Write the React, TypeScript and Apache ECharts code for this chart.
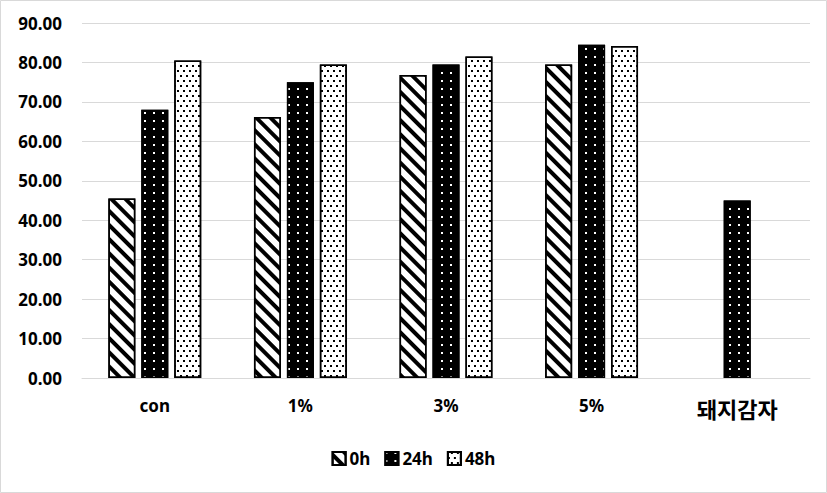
import React, { useEffect, useRef } from "react";
import * as echarts from "echarts";

const categories = ["con", "1%", "3%", "5%", "돼지감자"];
const seriesNames = ["0h", "24h", "48h"];
const values0h: (number | null)[] = [45.5, 66.2, 76.8, 79.5, null];
const values24h: (number | null)[] = [68.0, 75.0, 79.5, 84.5, 45.0];
const values48h: (number | null)[] = [80.5, 79.5, 81.5, 84.2, null];
const yTicks = { min: 0, max: 90, interval: 10 };

const FONT = "'Noto Sans', 'Noto Sans CJK KR', sans-serif";

export default function App() {
  const ref = useRef<HTMLDivElement>(null);
  useEffect(() => {
    if (!ref.current) return;
    const chart = echarts.init(ref.current, null, { renderer: "svg" });
    const border = { borderColor: "#000", borderWidth: 1.5 };
    chart.setOption({
      animation: false,
      backgroundColor: "#fff",
      textStyle: { fontFamily: FONT },
      graphic: [
        {
          type: "rect",
          shape: { x: 0.5, y: 0.5, width: 826, height: 492 },
          style: { fill: "none", stroke: "#d9d9d9", lineWidth: 1 },
          silent: true,
        },
      ],
      grid: { left: 82, right: 17, top: 23, bottom: 115 },
      legend: {
        bottom: 21,
        left: "center",
        itemWidth: 13,
        itemHeight: 13,
        itemGap: 14,
        icon: "rect",
        textStyle: { fontFamily: FONT, fontSize: 17, fontWeight: "bold", color: "#000", padding: [0, 0, 0, -1] },
        data: seriesNames,
      },
      xAxis: {
        type: "category",
        data: categories,
        axisLine: { show: true, lineStyle: { color: "#d9d9d9", width: 1 } },
        axisTick: { show: false },
        axisLabel: {
          margin: 19,
          fontFamily: FONT,
          fontSize: 17,
          fontWeight: "bold",
          color: "#000",
          formatter: (v: string) => (/^[\uAC00-\uD7A3]/.test(v) ? `{k|${v}}` : v),
          rich: { k: { fontFamily: "'Noto Sans CJK KR', sans-serif", fontSize: 22, fontWeight: "bold", color: "#000" } },
        },
      },
      yAxis: {
        type: "value",
        min: yTicks.min,
        max: yTicks.max,
        interval: yTicks.interval,
        axisLine: { show: false },
        axisTick: { show: false },
        splitLine: { lineStyle: { color: "#d9d9d9", width: 1 } },
        axisLabel: {
          margin: 20,
          fontFamily: FONT,
          fontSize: 17,
          fontWeight: "bold",
          color: "#000",
          formatter: (v: number) => v.toFixed(2),
        },
      },
      series: [
        {
          name: seriesNames[0],
          type: "bar",
          data: values0h,
          barWidth: 27,
          barGap: "22%",
          itemStyle: {
            color: "#fff",
            ...border,
            decal: {
              symbol: "rect",
              symbolSize: 1,
              color: "#000",
              dashArrayX: [1, 0],
              dashArrayY: [4, 6],
              rotation: Math.PI / 4,
            },
          },
        },
        {
          name: seriesNames[1],
          type: "bar",
          data: values24h,
          barWidth: 27,
          barGap: "22%",
          itemStyle: {
            color: "#000",
            ...border,
            decal: {
              symbol: "rect",
              symbolSize: 1,
              color: "#fff",
              dashArrayX: [2, 7],
              dashArrayY: [2, 6],
              rotation: 0,
            },
          },
        },
        {
          name: seriesNames[2],
          type: "bar",
          data: values48h,
          barWidth: 27,
          barGap: "22%",
          itemStyle: {
            color: "#fff",
            ...border,
            decal: {
              symbol: "rect",
              symbolSize: 1,
              color: "#000",
              dashArrayX: [[1.5, 3.5], [0, 2.5, 1.5, 1]],
              dashArrayY: [1.5, 2.5],
              rotation: 0,
            },
          },
        },
      ],
    });
    return () => chart.dispose();
  }, []);
  return (
    <div
      ref={ref}
      style={{ position: "fixed", left: 0, top: 0, width: 827, height: 493 }}
    />
  );
}
